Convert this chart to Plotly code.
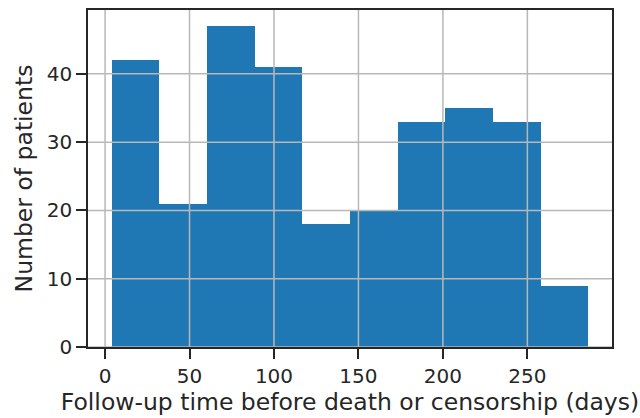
import numpy as np
import plotly.graph_objects as go

# Histogram data (10 bins)
bin_min = 4.0
bin_max = 286.0
counts = [42, 21, 47, 41, 18, 20, 33, 35, 33, 9]
x_ticks = [0, 50, 100, 150, 200, 250]
y_ticks = [0, 10, 20, 30, 40]
x_title = "Follow-up time before death or censorship (days)"
y_title = "Number of patients"

edges = np.linspace(bin_min, bin_max, len(counts) + 1)
centers = (edges[:-1] + edges[1:]) / 2
widths = np.diff(edges)

span = bin_max - bin_min
x_range = [bin_min - 0.05 * span, bin_max + 0.05 * span]
y_range = [0, max(counts) * 1.05]

fig = go.Figure()
fig.add_trace(go.Bar(
    x=centers, y=counts, width=widths,
    marker=dict(color="#1f77b4", line=dict(width=0)),
    hoverinfo="skip",
))

shapes = []
for t in x_ticks:
    shapes.append(dict(type="line", xref="x", yref="paper", x0=t, x1=t, y0=0, y1=1,
                       line=dict(color="#b8b8b8", width=1.5), layer="above"))
for t in y_ticks:
    shapes.append(dict(type="line", xref="paper", yref="y", x0=0, x1=1, y0=t, y1=t,
                       line=dict(color="#b8b8b8", width=1.5), layer="above"))

font = "DejaVu Sans"
fig.update_layout(
    width=640, height=418,
    margin=dict(l=88, r=28, t=8, b=71),
    paper_bgcolor="white", plot_bgcolor="white",
    bargap=0, showlegend=False,
    shapes=shapes,
    font=dict(family=font, color="#262626", size=14),
)
fig.update_xaxes(
    range=x_range, tickvals=x_ticks, ticktext=[str(t) for t in x_ticks],
    showgrid=False, zeroline=False,
    showline=True, mirror=True, linecolor="#262626", linewidth=1.5,
    ticks="outside", ticklen=10, tickwidth=1.5, tickcolor="#262626",
    tickfont=dict(family=font, size=20, color="#262626"),
    title=dict(text=x_title, font=dict(family=font, size=23.5, color="#262626"), standoff=2),
)
fig.update_yaxes(
    range=y_range, tickvals=y_ticks, ticktext=[str(t) for t in y_ticks],
    showgrid=False, zeroline=False,
    showline=True, mirror=True, linecolor="#262626", linewidth=1.5,
    ticks="outside", ticklen=10, tickwidth=1.5, tickcolor="#262626",
    tickfont=dict(family=font, size=20, color="#262626"),
    title=dict(text=y_title, font=dict(family=font, size=23.5, color="#262626"), standoff=8),
)

fig.write_html("out.html")
